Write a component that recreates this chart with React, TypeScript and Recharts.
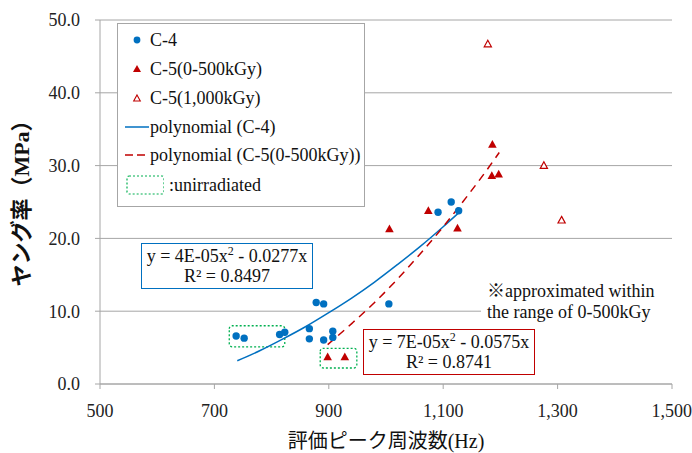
import React from 'react';
import {
    ScatterChart,
    Scatter,
    XAxis,
    YAxis,
    CartesianGrid,
    ReferenceArea
} from 'recharts';

// C-4 measured points [frequency Hz, Young's modulus MPa]
const c4Freq = [738, 752, 814, 823, 866, 866, 878, 891, 891, 907, 907, 1005, 1091, 1114, 1127];
const c4Young = [6.6, 6.3, 6.8, 7.1, 7.6, 6.2, 11.2, 11.0, 6.05, 7.25, 6.4, 11.0, 23.6, 25.0, 23.8];

// C-5 (0-500kGy)
const c5Freq = [898, 928, 1006, 1074, 1125, 1185, 1186, 1197];
const c5Young = [3.7, 3.7, 21.3, 23.8, 21.4, 28.6, 32.9, 28.8];

// C-5 (1,000kGy)
const c5kFreq = [1178, 1276, 1307];
const c5kYoung = [46.7, 30.0, 22.5];

// trend curves
const trendC4Freq = [740, 780, 820, 860, 900, 940, 980, 1020, 1060, 1100, 1127];
const trendC4Young = [3.2, 4.6, 6.2, 7.9, 9.8, 11.8, 14.0, 16.4, 18.9, 21.6, 23.5];
const trendC5Freq = [898, 940, 980, 1020, 1060, 1100, 1140, 1180, 1198];
const trendC5Young = [5.4, 8.3, 11.2, 14.4, 17.9, 21.6, 25.6, 29.8, 31.8];

const xTicks = [500, 700, 900, 1100, 1300, 1500];
const yTicks = [0, 10, 20, 30, 40, 50];

const BLUE = '#0070C0';
const RED = '#C00000';
const GREEN = '#00B050';
const GRID = '#A6A6A6';
const SERIF = '"Liberation Serif", "Times New Roman", serif';
const JP = '"Liberation Serif", "Noto Sans CJK JP", sans-serif';

const zip = (xs: number[], ys: number[]) => xs.map((x, i) => ({ x, y: ys[i] }));

const Dot = (p: any) => <circle cx={p.cx} cy={p.cy} r={3.7} fill={BLUE} />;
const Tri = (p: any) => (
    <path d={`M${p.cx},${p.cy - 4.5} L${p.cx + 4.3},${p.cy + 3.2} L${p.cx - 4.3},${p.cy + 3.2} Z`} fill={RED} />
);
const OpenTri = (p: any) => (
    <path
        d={`M${p.cx},${p.cy - 3.8} L${p.cx + 3.6},${p.cy + 2.8} L${p.cx - 3.6},${p.cy + 2.8} Z`}
        fill="#fff"
        stroke={RED}
        strokeWidth={1.2}
    />
);
const NoShape = () => null;

const legendRow: React.CSSProperties = {
    position: 'absolute',
    left: 0,
    height: 20,
    display: 'flex',
    alignItems: 'center',
    whiteSpace: 'nowrap'
};

const eqBox = (color: string, left: number, top: number): React.CSSProperties => ({
    position: 'absolute',
    left,
    top,
    width: 172,
    height: 46,
    background: '#fff',
    border: `1px solid ${color}`,
    boxSizing: 'border-box',
    fontFamily: SERIF,
    fontSize: 18,
    lineHeight: '20px',
    textAlign: 'center',
    color: '#111',
    paddingTop: 2,
    whiteSpace: 'nowrap'
});

const App: React.FC = () => {
    return (
        <div style={{ position: 'absolute', left: 0, top: 0, width: 692, height: 453, background: '#fff' }}>
            <ScatterChart width={692} height={453} margin={{ top: 20, right: 20, left: 0, bottom: 0 }}>
                <CartesianGrid vertical={false} stroke={GRID} />
                <XAxis
                    type="number"
                    dataKey="x"
                    domain={[500, 1500]}
                    ticks={xTicks}
                    tickFormatter={(v: number) => v.toLocaleString('en-US')}
                    height={69}
                    stroke={GRID}
                    tickSize={5}
                    tickMargin={15}
                    tick={{ fill: '#222', fontSize: 18, fontFamily: SERIF }}
                    allowDataOverflow
                />
                <YAxis
                    type="number"
                    dataKey="y"
                    domain={[0, 50]}
                    ticks={yTicks}
                    tickFormatter={(v: number) => v.toFixed(1)}
                    width={100}
                    stroke={GRID}
                    tickSize={5}
                    tickMargin={15}
                    tick={{ fill: '#222', fontSize: 18, fontFamily: SERIF }}
                    allowDataOverflow
                />
                <ReferenceArea x1={1500} x2={1500} y1={0} y2={50} stroke={GRID} fill="none" ifOverflow="visible" />
                <ReferenceArea
                    x1={726}
                    x2={823}
                    y1={5.1}
                    y2={8.0}
                    stroke={GREEN}
                    strokeDasharray="2 2"
                    strokeWidth={1.3}
                    fill="none"
                    radius={3}
                />
                <ReferenceArea
                    x1={885}
                    x2={949}
                    y1={2.2}
                    y2={4.9}
                    stroke={GREEN}
                    strokeDasharray="2 2"
                    strokeWidth={1.3}
                    fill="none"
                    radius={3}
                />
                <Scatter
                    data={zip(trendC4Freq, trendC4Young)}
                    line={{ stroke: BLUE, strokeWidth: 1.5 }}
                    lineJointType="monotoneX"
                    shape={NoShape}
                    isAnimationActive={false}
                />
                <Scatter
                    data={zip(trendC5Freq, trendC5Young)}
                    line={{ stroke: RED, strokeWidth: 1.5, strokeDasharray: '8 6' }}
                    lineJointType="monotoneX"
                    shape={NoShape}
                    isAnimationActive={false}
                />
                <Scatter data={zip(c4Freq, c4Young)} shape={Dot} isAnimationActive={false} />
                <Scatter data={zip(c5Freq, c5Young)} shape={Tri} isAnimationActive={false} />
                <Scatter data={zip(c5kFreq, c5kYoung)} shape={OpenTri} isAnimationActive={false} />
            </ScatterChart>

            {/* legend */}
            <div
                style={{
                    position: 'absolute',
                    left: 117,
                    top: 23,
                    width: 248,
                    height: 184,
                    background: '#fff',
                    border: `1px solid ${GRID}`,
                    boxSizing: 'border-box',
                    fontFamily: SERIF,
                    fontSize: 18,
                    color: '#111'
                }}
            >
                <div style={{ ...legendRow, top: 6 }}>
                    <svg width={32} height={20}>
                        <circle cx={19} cy={10} r={3.4} fill={BLUE} />
                    </svg>
                    <span>C-4</span>
                </div>
                <div style={{ ...legendRow, top: 35 }}>
                    <svg width={32} height={20}>
                        <path d="M19,6 L23,13 L15,13 Z" fill={RED} />
                    </svg>
                    <span>C-5(0-500kGy)</span>
                </div>
                <div style={{ ...legendRow, top: 64 }}>
                    <svg width={32} height={20}>
                        <path d="M19,7 L22.3,13 L15.7,13 Z" fill="#fff" stroke={RED} strokeWidth={1.1} />
                    </svg>
                    <span>C-5(1,000kGy)</span>
                </div>
                <div style={{ ...legendRow, top: 93 }}>
                    <svg width={32} height={20}>
                        <line x1={7} y1={10} x2={31} y2={10} stroke={BLUE} strokeWidth={1.5} />
                    </svg>
                    <span>polynomial (C-4)</span>
                </div>
                <div style={{ ...legendRow, top: 121 }}>
                    <svg width={32} height={20}>
                        <line x1={7} y1={10} x2={31} y2={10} stroke={RED} strokeWidth={1.5} strokeDasharray="8 4" />
                    </svg>
                    <span>polynomial (C-5(0-500kGy))</span>
                </div>
                <div style={{ ...legendRow, top: 151 }}>
                    <svg width={46} height={20}>
                        <rect
                            x={9}
                            y={1}
                            width={37}
                            height={18}
                            rx={2}
                            fill="none"
                            stroke={GREEN}
                            strokeWidth={1.2}
                            strokeDasharray="2 2"
                        />
                    </svg>
                    <span style={{ marginLeft: 5 }}>:unirradiated</span>
                </div>
            </div>

            {/* trend equations */}
            <div style={eqBox(BLUE, 141, 243)}>
                <div>
                    y = 4E-05x<sup style={{ fontSize: 12, lineHeight: 0 }}>2</sup> - 0.0277x
                </div>
                <div>R² = 0.8497</div>
            </div>
            <div style={eqBox(RED, 363, 329)}>
                <div>
                    y = 7E-05x<sup style={{ fontSize: 12, lineHeight: 0 }}>2</sup> - 0.0575x
                </div>
                <div>R² = 0.8741</div>
            </div>

            {/* note */}
            <div
                style={{
                    position: 'absolute',
                    left: 481,
                    top: 281,
                    width: 190,
                    background: '#fff',
                    fontFamily: JP,
                    fontSize: 18,
                    lineHeight: '21px',
                    color: '#111',
                    paddingLeft: 6,
                    whiteSpace: 'nowrap'
                }}
            >
                <div>※approximated within</div>
                <div>the range of 0-500kGy</div>
            </div>

            {/* axis titles */}
            <div
                style={{
                    position: 'absolute',
                    left: 0,
                    top: 429,
                    width: 772,
                    textAlign: 'center',
                    fontFamily: JP,
                    fontSize: 20,
                    lineHeight: '24px',
                    color: '#111'
                }}
            >
                評価ピーク周波数(Hz)
            </div>
            <div
                style={{
                    position: 'absolute',
                    left: 22,
                    top: 198,
                    transform: 'translate(-50%, -50%) rotate(-90deg)',
                    fontFamily: JP,
                    fontSize: 22,
                    fontWeight: 700,
                    lineHeight: '26px',
                    whiteSpace: 'nowrap',
                    color: '#111'
                }}
            >
                ヤング率（MPa）
            </div>
        </div>
    );
};

export default App;
